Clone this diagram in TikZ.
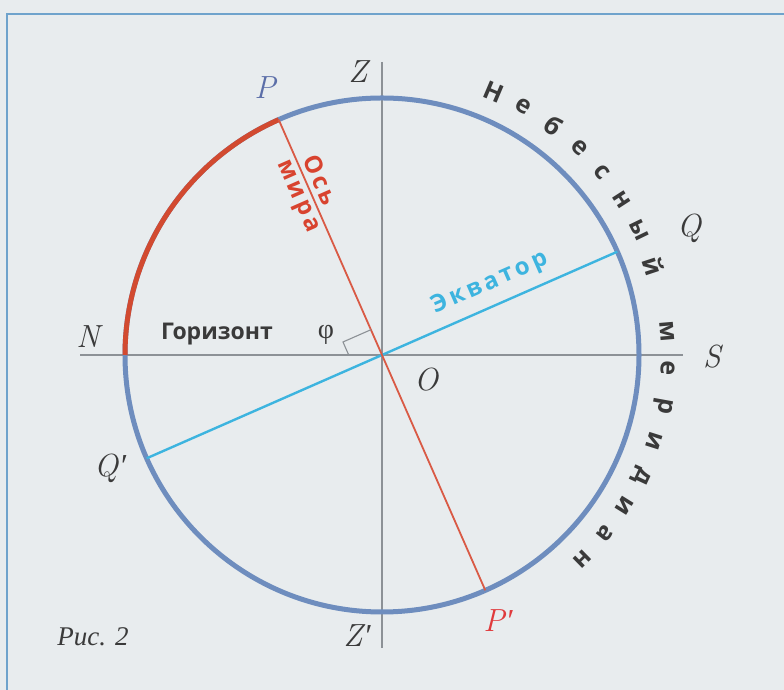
\documentclass[tikz,border=0pt]{standalone}
\usepackage{fontspec}
\usetikzlibrary{calc}
\newfontfamily\osans{Open Sans}
\newfontfamily\lserif{Liberation Serif}
\definecolor{bgc}{HTML}{E8ECEE}
\definecolor{framec}{HTML}{6FA3CC}
\definecolor{circc}{HTML}{6E8DBE}
\definecolor{arcred}{HTML}{D24A30}
\definecolor{axred}{HTML}{D95A45}
\definecolor{eqc}{HTML}{3DB4DF}
\definecolor{linegray}{HTML}{8C9196}
\definecolor{labgray}{HTML}{3A3A3A}
\definecolor{plab}{HTML}{5B6EA8}
\definecolor{pplab}{HTML}{E03A3C}
\definecolor{txtred}{HTML}{D8432F}
\newcommand{\prm}{\kern1pt{\lserif\itshape ′}}
\begin{document}
\begin{tikzpicture}[x=1pt,y=1pt,
  lbl/.style={font=\fontsize{32}{32}\selectfont\itshape, text=labgray, inner sep=0pt},
  sanslbl/.style={font=\osans\bfseries\fontsize{23}{23}\selectfont, inner sep=0pt},
  spaced/.style={font=\osans\bfseries\fontsize{24}{24}\selectfont\addfontfeatures{LetterSpace=14}, inner sep=0pt},
  merid/.style={font=\osans\bfseries\fontsize{25}{25}\selectfont, text=labgray, inner sep=0pt},
  thinline/.style={draw=linegray, line width=1.3pt}]
\fill[bgc] (0,0) rectangle (784,690);
\useasboundingbox (0,0) rectangle (784,690);
% frame
\coordinate (fr1) at (784,676);
\coordinate (fr2) at (7,676);
\coordinate (fr3) at (7,0);
\draw[framec, line width=2.2pt] (fr1) -- (fr2) -- (fr3);
% centre and reference lines
\coordinate (O) at (382,335);
\def\R{257}
\coordinate (Zt) at (382,628);
\coordinate (Zb) at (382,42);
\coordinate (Hl) at (80,335);
\coordinate (Hr) at (683,335);
\draw[thinline] (Zt) -- (Zb);
\draw[thinline] (Hl) -- (Hr);
% points on the circle
\coordinate (P) at ($(O)+(113.7:\R)$);
\coordinate (Pp) at ($(O)+(293.7:\R)$);
\coordinate (Q) at ($(O)+(23.7:\R)$);
\coordinate (Qp) at ($(O)+(203.7:\R)$);
% celestial meridian
\draw[circc, line width=5pt] (O) circle (\R);
\draw[arcred, line width=5pt] (P) arc (113.7:180:\R);
% equator and axis
\draw[eqc, line width=2.4pt] (Qp) -- (Q);
\draw[axred, line width=1.8pt] (P) -- (Pp);
% right-angle mark
\coordinate (rC) at ($(O)+(113.7:27.6)$);
\coordinate (rB) at ($(rC)+(203.7:30.5)$);
\coordinate (rA) at ($(rB)+(293.7:14.2)$);
\draw[linegray, line width=1.1pt] (rA) -- (rB) -- (rC);
% letter labels
\node[lbl, text=plab] (lP) at (265,602) {P};
\node[lbl] (lZ) at (358,618) {Z};
\node[lbl] (lN) at (88,353) {N};
\node[lbl] (lS) at (712,333) {S};
\node[lbl] (lO) at (426,310) {O};
\node[lbl] (lQ) at (689,462) {Q};
\node[lbl] (lQp) at (110,222) {Q\prm};
\node[lbl] (lZp) at (357,54) {Z\prm};
\node[lbl, text=pplab] (lPp) at (498,69) {P\prm};
\node[font=\lserif\itshape\fontsize{27}{27}\selectfont, text=labgray, inner sep=0pt] (fig) at (93,53) {Рис. 2};
% word labels
\node[sanslbl, text=labgray] (hor) at (217,356) {Горизонт};
\node[font=\lserif\fontsize{28}{28}\selectfont, text=labgray, inner sep=0pt] (phi) at (326,355) {φ};
\node[spaced, text=eqc, rotate=23.7] (eq) at ($(O)+(23.7:128)+(113.7:22)$) {Экватор};
\node[spaced, text=txtred, rotate=-66.3] (os) at ($(O)+(113.7:185)+(23.7:14.5)$) {Ось};
\node[spaced, text=txtred, rotate=-66.3] (mira) at ($(O)+(113.7:179)+(23.7:-15)$) {мира};
% Небесный меридиан
\foreach \ch/\a [count=\i, evaluate=\a as \r using \a-90] in
  {Н/67, е/60.3, б/53.2, е/46.4, с/39.7, н/32.9, ы/25.8, й/18.2,
   м/4.8, е/-2.6, р/-10.2, и/-17.6, д/-24.9, и/-31.9, а/-38.7, н/-45.6}
  \node[merid, rotate=\r] (m\i) at ($(O)+(\a:286)$) {\ch};
\end{tikzpicture}
\end{document}
